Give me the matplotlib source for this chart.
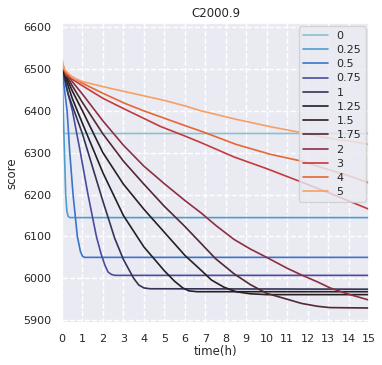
import numpy as np
import matplotlib
matplotlib.use("Agg")
import matplotlib.pyplot as plt
import seaborn as sns

labels = ["0", "0.25", "0.5", "0.75", "1", "1.25", "1.5", "1.75", "2", "3", "4", "5"]

# (time, score) samples
t_0 = [0, 0.03, 15]
s_0 = [6500, 6346, 6346]
t_025 = [0, 0.05, 0.12, 0.18, 0.24, 0.3, 0.38, 15]
s_025 = [6500, 6420, 6300, 6200, 6160, 6148, 6145, 6145]
t_05 = [0, 0.1, 0.25, 0.38, 0.54, 0.75, 0.9, 1.0, 1.1, 15]
s_05 = [6505, 6460, 6400, 6300, 6200, 6100, 6064, 6053, 6050, 6050]
t_075 = [0, 0.2, 0.51, 0.9, 1.27, 1.68, 1.9, 2.09, 2.25, 2.42, 2.6, 15]
s_075 = [6505, 6460, 6400, 6300, 6200, 6100, 6060, 6032, 6015, 6009, 6007, 6007]
t_1 = [0, 0.3, 1, 2, 2.58, 3, 3.3, 3.5, 3.75, 4, 4.3, 15]
s_1 = [6505, 6440, 6345, 6184, 6095, 6045, 6018, 6000, 5984, 5977, 5975, 5974]
t_125 = [0, 0.5, 1, 2, 3, 4, 5, 5.5, 5.9, 6.2, 6.6, 15]
s_125 = [6505, 6430, 6370, 6252, 6150, 6075, 6018, 5993, 5977, 5970, 5968, 5968]
t_15 = [0, 0.5, 1, 2, 3, 4, 5, 6, 6.8, 7.3, 7.9, 8.5, 9.2, 10, 15]
s_15 = [6505, 6448, 6400, 6300, 6225, 6165, 6110, 6055, 6019, 5996, 5979, 5968, 5963, 5961, 5961]
t_175 = [0, 0.5, 1, 2, 3, 4, 5, 6, 6.8, 7.5, 8.4, 9.2, 10, 11, 11.7, 12.5, 13.1, 15]
s_175 = [6505, 6460, 6420, 6345, 6280, 6225, 6172, 6124, 6083, 6047, 6011, 5985, 5964, 5950, 5940, 5933, 5930, 5929]
t_2 = [0, 0.5, 1, 2, 3, 4, 5, 6, 6.8, 7.5, 8.4, 9.2, 10, 11, 11.7, 12.5, 13.1, 14, 15]
s_2 = [6505, 6470, 6440, 6376, 6318, 6268, 6226, 6186, 6156, 6127, 6093, 6070, 6050, 6024, 6008, 5991, 5977, 5962, 5948]
t_3 = [0, 0.2, 1, 2, 3.07, 4, 4.8, 6, 6.8, 8.4, 10, 11.7, 13, 14, 15]
s_3 = [6510, 6485, 6460, 6430, 6404, 6382, 6363, 6340, 6324, 6290, 6262, 6230, 6205, 6185, 6165]
t_4 = [0, 0.2, 1, 2, 3.07, 4, 4.8, 6, 6.99, 8.5, 10.2, 11.7, 13, 14, 15]
s_4 = [6515, 6490, 6466, 6442, 6418, 6400, 6386, 6365, 6348, 6320, 6296, 6280, 6260, 6245, 6228]
t_5 = [0, 0.1, 0.5, 1, 2, 3.07, 4, 5, 6, 6.8, 8.5, 10.2, 11.7, 13, 14, 15]
s_5 = [6525, 6500, 6480, 6470, 6458, 6446, 6436, 6425, 6412, 6400, 6380, 6362, 6348, 6335, 6328, 6320]

times = [t_0, t_025, t_05, t_075, t_1, t_125, t_15, t_175, t_2, t_3, t_4, t_5]
scores = [s_0, s_025, s_05, s_075, s_1, s_125, s_15, s_175, s_2, s_3, s_4, s_5]

sns.set_theme(style="darkgrid", rc={"grid.linestyle": "--"})
colors = sns.color_palette("icefire", len(labels))

fig = plt.figure(figsize=(3.82, 3.65), dpi=100)
ax = fig.add_axes([0.1623, 0.116, 0.8037, 0.821])

for t, s, c, lab in zip(times, scores, colors, labels):
    ax.plot(t, s, color=c, lw=1.2, label=lab)

ax.set_xlim(0, 15)
ax.set_ylim(5894, 6610)
ax.set_xticks(range(0, 16))
ax.set_yticks(range(5900, 6601, 100))
ax.tick_params(labelsize=8, pad=2)
ax.set_xlabel("time(h)", fontsize=8.5, labelpad=1)
ax.set_ylabel("score", fontsize=8.5, labelpad=3)
ax.set_title("C2000.9", fontsize=8.5, pad=4)
ax.legend(loc="upper right", fontsize=8, handlelength=2.2, labelspacing=0.38,
          borderaxespad=0.3)

fig.savefig("out.png", dpi=100)
